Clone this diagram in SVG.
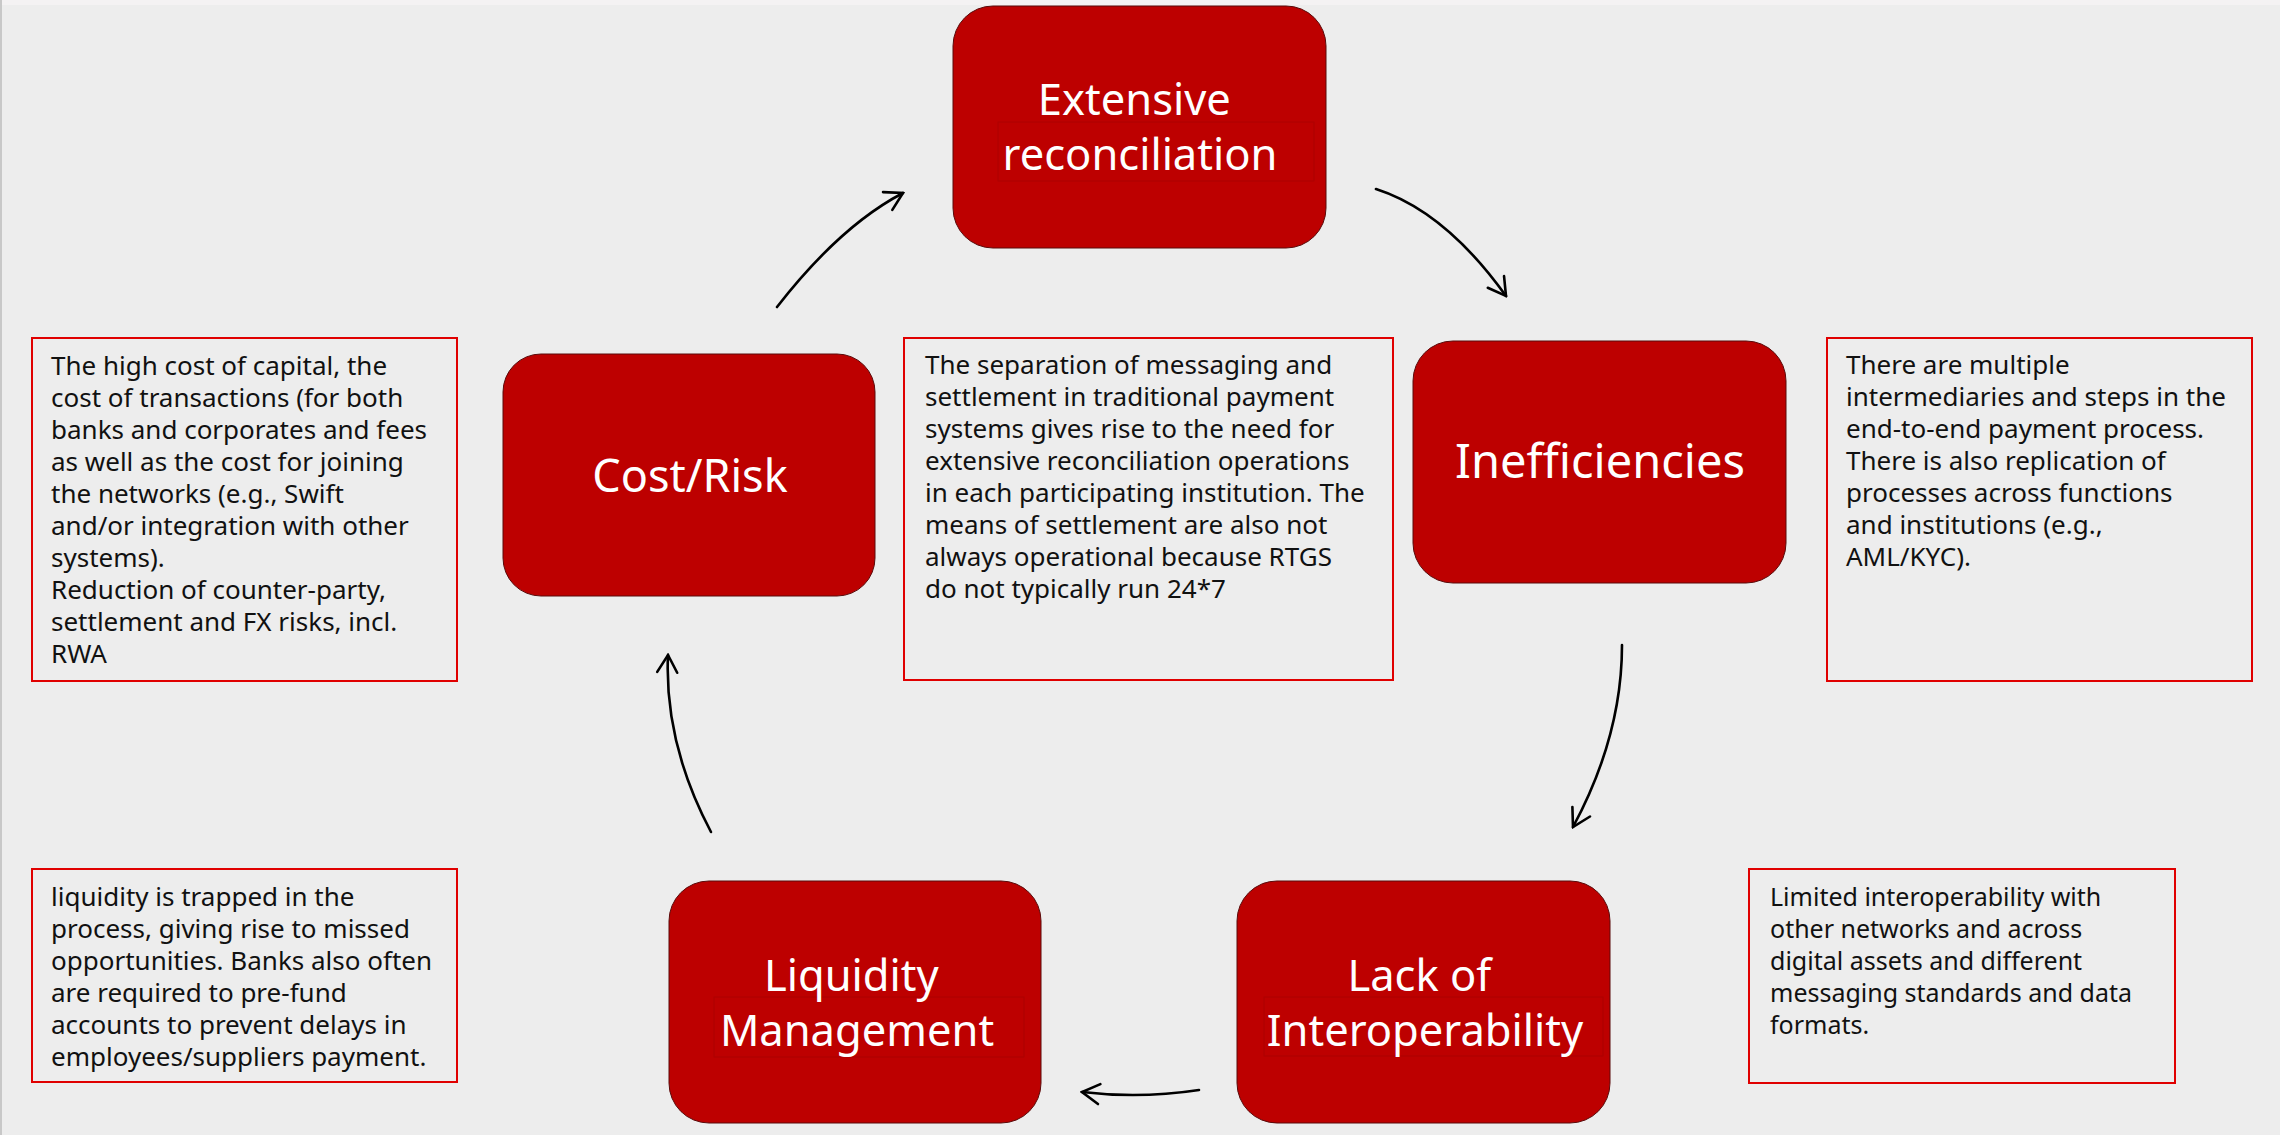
<svg xmlns="http://www.w3.org/2000/svg" width="2280" height="1135" viewBox="0 0 2280 1135">
  <defs>
    <marker id="arrow" viewBox="0 0 24 24" refX="22" refY="12" markerWidth="24" markerHeight="24" markerUnits="userSpaceOnUse" orient="auto">
      <path d="M4.7,2 L22,12 L4.7,22" fill="none" stroke="#000" stroke-width="2.6" stroke-linecap="round" stroke-linejoin="miter"/>
    </marker>
    <style>
      .node { fill: #bd0000; stroke: #5a0a0a; stroke-width: 1; }
      .tbox { fill: none; stroke: #a30000; stroke-width: 0.8; opacity: 0.7; }
      .label { font-family: "Noto Sans", "Liberation Sans", sans-serif; fill: #ffffff; text-anchor: middle; }
      .note { fill: none; stroke: #e00000; stroke-width: 2; }
      .body { font-family: "Noto Sans", "Liberation Sans", sans-serif; font-size: 26px; fill: #111111; }
      .body25 { font-family: "Noto Sans", "Liberation Sans", sans-serif; font-size: 25px; fill: #111111; }
      .conn { fill: none; stroke: #000000; stroke-width: 2.6; stroke-linecap: round; marker-end: url(#arrow); }
    </style>
  </defs>

  <rect x="0" y="0" width="2280" height="1135" fill="#ededed"/>
  <rect x="0" y="0" width="2280" height="5" fill="#f4f2f3"/>
  <rect x="0" y="0" width="2" height="1135" fill="#c8c8c8"/>

  <g id="connectors">
    <path class="conn" d="M777,307 Q840,226 903,193"/>
    <path class="conn" d="M1376,189 Q1445,211 1506,296"/>
    <path class="conn" d="M1622,645 Q1622,736 1573,827"/>
    <path class="conn" d="M1199,1090 Q1140,1099 1082,1092"/>
    <path class="conn" d="M711,832 Q664,743 668,655"/>
  </g>

  <g id="node-extensive-reconciliation">
    <rect class="node" x="953" y="6" width="373" height="242" rx="40" ry="40"/>
    <rect class="tbox" x="998" y="122" width="316" height="59"/>
    <text class="label" font-size="43.5">
      <tspan x="1140" y="115">Extensive</tspan>
      <tspan x="1140" y="170">reconciliation</tspan>
    </text>
  </g>

  <g id="node-inefficiencies">
    <rect class="node" x="1413" y="341" width="373" height="242" rx="40" ry="40"/>
    <text class="label" x="1600" y="478" font-size="47">Inefficiencies</text>
  </g>

  <g id="node-cost-risk">
    <rect class="node" x="503" y="354" width="372" height="242" rx="38" ry="38"/>
    <text class="label" x="690" y="492" font-size="45">Cost/Risk</text>
  </g>

  <g id="node-liquidity-management">
    <rect class="node" x="669" y="881" width="372" height="242" rx="40" ry="40"/>
    <rect class="tbox" x="714" y="997" width="310" height="60"/>
    <text class="label" font-size="43.5">
      <tspan x="857" y="991">Liquidity</tspan>
      <tspan x="857" y="1046">Management</tspan>
    </text>
  </g>

  <g id="node-lack-of-interoperability">
    <rect class="node" x="1237" y="881" width="373" height="242" rx="40" ry="40"/>
    <rect class="tbox" x="1264" y="997" width="339" height="59"/>
    <text class="label" font-size="43.5">
      <tspan x="1425" y="991">Lack of</tspan>
      <tspan x="1425" y="1046">Interoperability</tspan>
    </text>
  </g>

  <g id="note-cost-risk">
    <rect class="note" x="32" y="338" width="425" height="343"/>
    <text class="body">
      <tspan x="51" y="375">The high cost of capital, the</tspan>
      <tspan x="51" y="407">cost of transactions (for both</tspan>
      <tspan x="51" y="439">banks and corporates and fees</tspan>
      <tspan x="51" y="471">as well as the cost for joining</tspan>
      <tspan x="51" y="503">the networks (e.g., Swift</tspan>
      <tspan x="51" y="535">and/or integration with other</tspan>
      <tspan x="51" y="567">systems).</tspan>
      <tspan x="51" y="599">Reduction of counter-party,</tspan>
      <tspan x="51" y="631">settlement and FX risks, incl.</tspan>
      <tspan x="51" y="663">RWA</tspan>
    </text>
  </g>

  <g id="note-reconciliation">
    <rect class="note" x="904" y="338" width="489" height="342"/>
    <text class="body">
      <tspan x="925" y="374">The separation of messaging and</tspan>
      <tspan x="925" y="406">settlement in traditional payment</tspan>
      <tspan x="925" y="438">systems gives rise to the need for</tspan>
      <tspan x="925" y="470">extensive reconciliation operations</tspan>
      <tspan x="925" y="502">in each participating institution. The</tspan>
      <tspan x="925" y="534">means of settlement are also not</tspan>
      <tspan x="925" y="566">always operational because RTGS</tspan>
      <tspan x="925" y="598">do not typically run 24*7</tspan>
    </text>
  </g>

  <g id="note-inefficiencies">
    <rect class="note" x="1827" y="338" width="425" height="343"/>
    <text class="body">
      <tspan x="1846" y="374">There are multiple</tspan>
      <tspan x="1846" y="406">intermediaries and steps in the</tspan>
      <tspan x="1846" y="438">end-to-end payment process.</tspan>
      <tspan x="1846" y="470">There is also replication of</tspan>
      <tspan x="1846" y="502">processes across functions</tspan>
      <tspan x="1846" y="534">and institutions (e.g.,</tspan>
      <tspan x="1846" y="566">AML/KYC).</tspan>
    </text>
  </g>

  <g id="note-liquidity">
    <rect class="note" x="32" y="869" width="425" height="213"/>
    <text class="body">
      <tspan x="51" y="906">liquidity is trapped in the</tspan>
      <tspan x="51" y="938">process, giving rise to missed</tspan>
      <tspan x="51" y="970">opportunities. Banks also often</tspan>
      <tspan x="51" y="1002">are required to pre-fund</tspan>
      <tspan x="51" y="1034">accounts to prevent delays in</tspan>
      <tspan x="51" y="1066">employees/suppliers payment.</tspan>
    </text>
  </g>

  <g id="note-interoperability">
    <rect class="note" x="1749" y="869" width="426" height="214"/>
    <text class="body25">
      <tspan x="1770" y="906">Limited interoperability with</tspan>
      <tspan x="1770" y="938">other networks and across</tspan>
      <tspan x="1770" y="970">digital assets and different</tspan>
      <tspan x="1770" y="1002">messaging standards and data</tspan>
      <tspan x="1770" y="1034">formats.</tspan>
    </text>
  </g>
</svg>
